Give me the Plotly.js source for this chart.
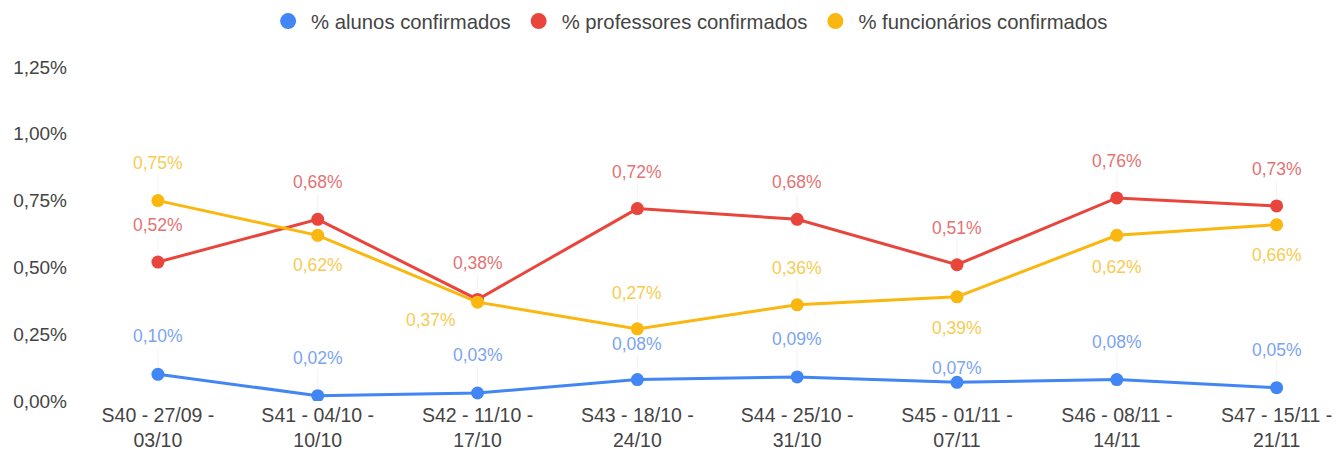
<!DOCTYPE html>
<html>
<head>
<meta charset="utf-8">
<script src="https://cdn.plot.ly/plotly-3.0.1.min.js"></script>
<style>html,body{margin:0;padding:0;background:#fff;}#chart{width:1338px;height:457px;}</style>
</head>
<body>
<div id="chart"></div>
<script>
const categories = [
  "S40 - 27/09 -<br>03/10", "S41 - 04/10 -<br>10/10", "S42 - 11/10 -<br>17/10",
  "S43 - 18/10 -<br>24/10", "S44 - 25/10 -<br>31/10", "S45 - 01/11 -<br>07/11",
  "S46 - 08/11 -<br>14/11", "S47 - 15/11 -<br>21/11"
];
const alunos = [0.10, 0.02, 0.03, 0.08, 0.09, 0.07, 0.08, 0.05];
const professores = [0.52, 0.68, 0.38, 0.72, 0.68, 0.51, 0.76, 0.73];
const funcionarios = [0.75, 0.62, 0.37, 0.27, 0.36, 0.39, 0.62, 0.66];
const seriesNames = ["% alunos confirmados", "% professores confirmados", "% funcionários confirmados"];
const yTickVals = [0, 0.25, 0.5, 0.75, 1.0, 1.25];
const yTickText = ["0,00%", "0,25%", "0,50%", "0,75%", "1,00%", "1,25%"];

// styling
const FONT = "Arial, 'Liberation Sans', sans-serif";
const colors = ["#4285F4", "#E8453C", "#F9B70F"];
const labelColors = ["#7BA4F0", "#E37373", "#F7CB52"];
// label offsets in px [ax, ay] per point for each series
const labelOffsets = [
  [[0,-38],[0,-38],[0,-38],[0,-36],[0,-38],[0,-14],[0,-38],[0,-38]],
  [[0,-37],[0,-37],[0,-36],[0,-37],[0,-37],[0,-37],[0,-37],[0,-37]],
  [[0,-38],[0,30],[-47,18],[0,-36],[0,-37],[0,31],[0,32],[0,30]]
];

const allSeries = [alunos, professores, funcionarios];
const fmt = v => v.toFixed(2).replace(".", ",") + "%";

const traces = allSeries.map((vals, i) => ({
  x: categories, y: vals, name: seriesNames[i], type: "scatter", mode: "lines+markers",
  line: {color: colors[i], width: 3},
  marker: {color: colors[i], size: 13},
  showlegend: false, hoverinfo: "skip"
}));
// legend-only entries (circle symbols, no line)
seriesNames.forEach((n, i) => traces.push({
  x: [null], y: [null], name: n, type: "scatter", mode: "markers",
  marker: {color: colors[i], size: 16}, showlegend: true, hoverinfo: "skip"
}));

const annotations = [];
allSeries.forEach((vals, i) => {
  vals.forEach((v, j) => {
    const off = labelOffsets[i][j];
    annotations.push({
      x: categories[j], y: v, xref: "x", yref: "y",
      text: fmt(v), showarrow: true, arrowhead: 0, arrowwidth: 0.6,
      arrowcolor: (off[0] === 0 && off[1] < -20) ? "rgba(0,0,0,0.07)" : "rgba(0,0,0,0)",
      ax: off[0], ay: off[1], standoff: 7,
      font: {family: FONT, size: 17.5, color: labelColors[i]}
    });
  });
});

const layout = {
  width: 1338, height: 457,
  margin: {l: 78, r: 0, t: 67, b: 56},
  paper_bgcolor: "#fff", plot_bgcolor: "#fff",
  font: {family: FONT, color: "#444"},
  showlegend: true,
  legend: {orientation: "h", x: 0.485, xanchor: "center", y: 0.997, yref: "container", yanchor: "top",
           font: {family: FONT, size: 20.3, color: "#444"}, itemwidth: 36},
  xaxis: {type: "category", range: [-0.5, 7.384], showgrid: false, zeroline: false,
          showline: false, ticks: "", tickfont: {family: FONT, size: 19.5, color: "#444"}, fixedrange: true},
  yaxis: {range: [0, 1.25], tickvals: yTickVals, ticktext: yTickText, showgrid: false,
          zeroline: false, showline: false, ticks: "", tickfont: {family: FONT, size: 19, color: "#444"},
          ticklabelstandoff: 10, fixedrange: true},
  annotations: annotations
};

Plotly.newPlot("chart", traces, layout, {displayModeBar: false, staticPlot: true});
</script>
</body>
</html>
